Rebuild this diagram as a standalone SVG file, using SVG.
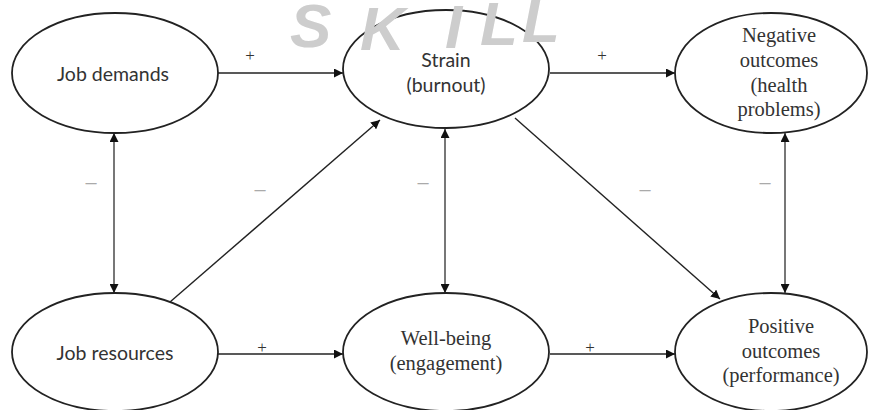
<svg xmlns="http://www.w3.org/2000/svg" width="871" height="410" viewBox="0 0 871 410">
<style>
.node ellipse{fill:#fff;stroke:#222;stroke-width:1.8}
.sans{font-family:Lato,"Open Sans","Liberation Sans",sans-serif;font-size:19.5px;fill:#333;text-anchor:middle}
.serif{font-family:"Liberation Serif","Times New Roman",serif;font-size:20.5px;fill:#333;text-anchor:middle}
.conn line{stroke:#222;stroke-width:1.4;fill:none}
.conn line.v{stroke:#777;stroke-width:2}
.lbl{font-family:"Liberation Serif",serif;font-size:17px;fill:#333;text-anchor:middle}
.neg{font-family:"Liberation Sans",sans-serif;font-size:20px;fill:#aaa;text-anchor:middle}
.wm{font-family:"Liberation Sans",sans-serif;font-size:62px;font-style:italic;font-weight:bold;fill:#cdcdcd}
</style>
<defs>
<marker id="ah" viewBox="0 0 10 10" refX="10" refY="5" markerWidth="9" markerHeight="9" markerUnits="userSpaceOnUse" orient="auto-start-reverse">
<path d="M0,0 L10,5 L0,10 z" fill="#111"/>
</marker>
</defs>
<rect width="871" height="410" fill="#fff"/>
<g class="conn">
<line x1="218" y1="73" x2="343" y2="73" marker-end="url(#ah)"/>
<line x1="550" y1="73" x2="675" y2="73" marker-end="url(#ah)"/>
<line class="v" x1="114" y1="133" x2="114" y2="293" marker-start="url(#ah)" marker-end="url(#ah)"/>
<line class="v" x1="445" y1="129" x2="445" y2="293" marker-start="url(#ah)" marker-end="url(#ah)"/>
<line class="v" x1="785" y1="133" x2="785" y2="293" marker-start="url(#ah)" marker-end="url(#ah)"/>
<line x1="170" y1="302" x2="380" y2="120" marker-end="url(#ah)"/>
<line x1="515" y1="118" x2="720" y2="299" marker-end="url(#ah)"/>
<line x1="218" y1="354" x2="343" y2="354" marker-end="url(#ah)"/>
<line x1="550" y1="354" x2="675" y2="354" marker-end="url(#ah)"/>
<text class="lbl" x="250" y="61">+</text>
<text class="lbl" x="602" y="61">+</text>
<text class="lbl" x="262" y="353">+</text>
<text class="lbl" x="590" y="353">+</text>
<text class="neg" x="91" y="189">–</text>
<text class="neg" x="260" y="196">–</text>
<text class="neg" x="423" y="189">–</text>
<text class="neg" x="645" y="196">–</text>
<text class="neg" x="765" y="189">–</text>
</g>
<g id="job-demands" class="node">
<ellipse cx="115" cy="73" rx="103" ry="60"/>
<text class="sans" x="113" y="81">Job demands</text>
</g>
<g id="strain" class="node">
<ellipse cx="446" cy="69" rx="103" ry="59"/>
<text class="sans" x="446" y="67">Strain</text>
<text class="sans" x="446" y="92">(burnout)</text>
</g>
<g id="negative-outcomes" class="node">
<ellipse cx="771" cy="73" rx="96" ry="60"/>
<text class="serif" x="779" y="42">Negative</text>
<text class="serif" x="779" y="67">outcomes</text>
<text class="serif" x="779" y="92">(health</text>
<text class="serif" x="779" y="116">problems)</text>
</g>
<g id="job-resources" class="node">
<ellipse cx="115" cy="352" rx="103" ry="59"/>
<text class="sans" x="115" y="360">Job resources</text>
</g>
<g id="well-being" class="node">
<ellipse cx="446" cy="352" rx="103" ry="59"/>
<text class="serif" x="446" y="345" font-size="21.5">Well-being</text>
<text class="serif" x="446" y="370" font-size="21.5">(engagement)</text>
</g>
<g id="positive-outcomes" class="node">
<ellipse cx="771" cy="352" rx="96" ry="59"/>
<text class="serif" x="781" y="333">Positive</text>
<text class="serif" x="781" y="358">outcomes</text>
<text class="serif" x="781" y="382">(performance)</text>
</g>
<text class="wm" x="290 360 445 480 522" y="47 50 48 45 42">SKILL</text>
</svg>
